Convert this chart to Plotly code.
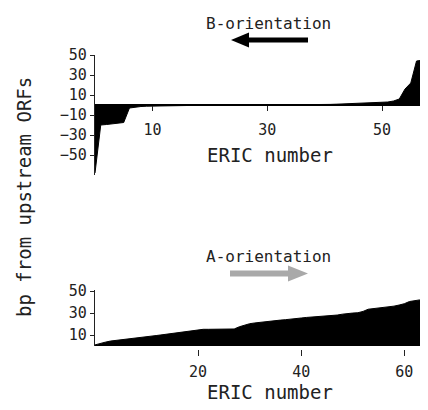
import plotly.graph_objects as go

# page body adds an 8px margin; build the figure in reference-pixel coords shifted by it
OFF = 8
W, H = 428 - OFF, 410 - 2 * OFF

# ---- data ----
b_eric = list(range(0, 59))
b_bp = [-68, -20, -19.5, -19, -18.5, -17.5, -3, -2, -1.5, -1.2,
        -1, -1, -0.8, -0.6, -0.6, -0.5, -0.5, -0.5, -0.4, -0.4,
        -0.3, -0.3, -0.3, -0.2, -0.2, 0, 0, 0, 0, 0,
        0, 0, 0, 0.1, 0.1, 0.2, 0.2, 0.3, 0.3, 0.4,
        0.5, 0.6, 0.8, 1, 1, 1.2, 1.5, 2, 2, 2.2,
        2.5, 3, 4, 6, 16, 22, 44, 45, 45.5]

a_eric = list(range(0, 65))
a_bp = [1, 2.5, 3.5, 4.5, 5, 5.5, 6, 6.7, 7.2, 7.8,
        8.5, 9, 9.6, 10.2, 10.8, 11.4, 12, 12.6, 13.4, 14.2,
        15, 15.2, 15.2, 15.2, 15.2, 15.3, 15.3, 15.5, 17.5, 19,
        20.3, 21, 21.6, 22.3, 23, 23.3, 23.6, 24, 24.3, 24.8,
        25.5, 26, 26.3, 26.6, 27, 27.3, 27.6, 28.2, 29, 29.7,
        30, 30.3, 31.5, 33.5, 34, 34.5, 35, 35.5, 36.3, 37.3,
        38.5, 40.5, 41.5, 42, 46.5]

b_yticks = [50, 30, 10, -10, -30, -50]
b_xticks = [10, 30, 50]
a_yticks = [50, 30, 10]
a_xticks = [20, 40, 60]

FONT = "DejaVu Sans Mono"
TXT = "#222222"


def px(x):
    return (x - OFF) / W


def py(y):
    return 1 - (y - OFF) / H


fig = go.Figure()
fig.add_trace(go.Scatter(x=b_eric, y=b_bp, mode="lines", fill="tozeroy",
                         line=dict(color="black", width=1), fillcolor="black",
                         xaxis="x", yaxis="y", showlegend=False, hoverinfo="skip"))
fig.add_trace(go.Scatter(x=a_eric, y=a_bp, mode="lines", fill="tozeroy",
                         line=dict(color="black", width=1), fillcolor="black",
                         xaxis="x2", yaxis="y2", showlegend=False, hoverinfo="skip"))

xdom = [px(95), 1.0]
tickfont = dict(family=FONT, size=15, color=TXT)

fig.update_layout(
    template="none",
    width=W, height=H, autosize=False,
    margin=dict(l=0, r=0, t=0, b=0, pad=0),
    paper_bgcolor="white", plot_bgcolor="rgba(0,0,0,0)",
    font=dict(family=FONT, color=TXT),
    xaxis=dict(domain=xdom, range=[0, 58], anchor="free", position=py(105),
               showline=True, linecolor="black", linewidth=1.5,
               ticks="outside", ticklen=5, tickwidth=1.3, tickcolor=TXT,
               tickvals=b_xticks, tickfont=tickfont, ticklabelstandoff=6,
               showgrid=False, zeroline=False, automargin=False),
    yaxis=dict(domain=[py(175), py(55)], range=[-70, 50], anchor="x",
               showline=True, linecolor=TXT, linewidth=1.3,
               ticks="outside", ticklen=4, tickwidth=1.3, tickcolor=TXT,
               tickvals=b_yticks, tickfont=tickfont,
               showgrid=False, zeroline=False, automargin=False),
    xaxis2=dict(domain=xdom, range=[0, 64.6], anchor="free", position=py(349),
                showline=False,
                ticks="outside", ticklen=6, tickwidth=1.3, tickcolor=TXT,
                tickvals=a_xticks, tickfont=tickfont, ticklabelstandoff=3,
                showgrid=False, zeroline=False, automargin=False),
    yaxis2=dict(domain=[py(346), py(290)], range=[0, 51], anchor="x2",
                showline=True, linecolor=TXT, linewidth=1.3,
                ticks="outside", ticklen=4, tickwidth=1.3, tickcolor=TXT,
                tickvals=a_yticks, tickfont=tickfont,
                showgrid=False, zeroline=False, automargin=False),
)

ann_font = dict(family=FONT, size=16, color=TXT)
title_font = dict(family=FONT, size=19, color=TXT)
annotations = [
    dict(text="B-orientation", x=px(268), y=py(23), font=ann_font),
    dict(text="A-orientation", x=px(268), y=py(257), font=ann_font),
    dict(text="ERIC number", x=px(270), y=py(155), font=title_font),
    dict(text="ERIC number", x=px(270), y=py(392), font=title_font),
    dict(text="bp from upstream ORFs", x=px(24), y=py(197), font=title_font,
         textangle=-90),
]
for a in annotations:
    a.update(xref="paper", yref="paper", showarrow=False,
             xanchor="center", yanchor="middle")
fig.update_layout(annotations=annotations)


def tri(p1, p2, p3):
    return "M {} {} L {} {} L {} {} Z".format(px(p1[0]), py(p1[1]), px(p2[0]), py(p2[1]),
                                             px(p3[0]), py(p3[1]))


shapes = [
    # B arrow (black, pointing left)
    dict(type="rect", x0=px(246), x1=px(308), y0=py(42.5), y1=py(37.5),
         fillcolor="black", line=dict(width=0)),
    dict(type="path", path=tri((231, 40), (249, 32.5), (249, 47.5)),
         fillcolor="black", line=dict(width=0)),
    # A arrow (gray, pointing right)
    dict(type="rect", x0=px(230), x1=px(290), y0=py(276.5), y1=py(270.5),
         fillcolor="#a9a9a9", line=dict(width=0)),
    dict(type="path", path=tri((308, 273.5), (288, 265.5), (288, 281.5)),
         fillcolor="#a9a9a9", line=dict(width=0)),
]
for s in shapes:
    s.update(xref="paper", yref="paper", layer="above")
fig.update_layout(shapes=shapes)

fig.write_html("out.html")
